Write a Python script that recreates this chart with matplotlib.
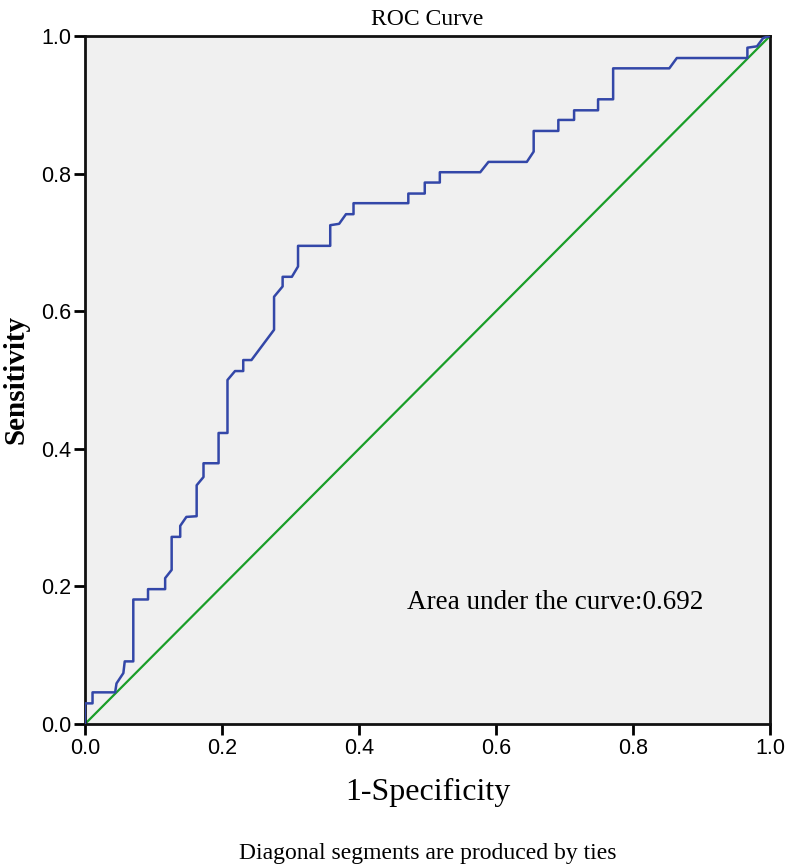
import matplotlib
matplotlib.use("Agg")
import matplotlib.pyplot as plt

# ROC curve points
fpr = [0, 0, 0.011, 0.011, 0.044, 0.046, 0.056, 0.058, 0.0705, 0.0705,
       0.092, 0.092, 0.117, 0.117, 0.1265, 0.1265, 0.139, 0.139, 0.148, 0.163,
       0.163, 0.173, 0.173, 0.195, 0.195, 0.208, 0.208, 0.219, 0.231, 0.231,
       0.243, 0.276, 0.276, 0.2885, 0.2885, 0.302, 0.311, 0.311, 0.358, 0.358,
       0.371, 0.381, 0.392, 0.392, 0.472, 0.472, 0.496, 0.496, 0.518, 0.518,
       0.577, 0.589, 0.645, 0.655, 0.655, 0.691, 0.691, 0.714, 0.714, 0.749,
       0.749, 0.771, 0.771, 0.853, 0.864, 0.967, 0.967, 0.981, 0.990, 1.0]
tpr = [0, 0.030, 0.030, 0.046, 0.046, 0.059, 0.074, 0.091, 0.091, 0.181,
       0.181, 0.196, 0.196, 0.212, 0.224, 0.272, 0.272, 0.288, 0.301, 0.302,
       0.347, 0.359, 0.379, 0.379, 0.423, 0.423, 0.5, 0.513, 0.513, 0.529,
       0.529, 0.573, 0.621, 0.636, 0.650, 0.650, 0.665, 0.695, 0.695, 0.725,
       0.727, 0.741, 0.741, 0.757, 0.757, 0.771, 0.771, 0.787, 0.787, 0.802,
       0.802, 0.817, 0.817, 0.832, 0.862, 0.862, 0.878, 0.878, 0.892, 0.892,
       0.908, 0.908, 0.953, 0.953, 0.968, 0.968, 0.983, 0.985, 0.997, 1.0]
ref_line = [0, 1]
ticks = [0.0, 0.2, 0.4, 0.6, 0.8, 1.0]
tick_labels = ["0.0", "0.2", "0.4", "0.6", "0.8", "1.0"]
auc_text = "Area under the curve:0.692"

serif = ["Liberation Serif", "DejaVu Serif"]
sans = ["Liberation Sans Narrow", "Liberation Sans", "DejaVu Sans"]

fig = plt.figure(figsize=(7.86, 8.67), dpi=100)
ax = fig.add_axes([85/786, 1 - 724/867, 685/786, 688/867])
ax.set_facecolor("#f0f0f0")

ax.plot(ref_line, ref_line, color="#1a9e28", lw=1.6, zorder=2)
ax.plot(fpr, tpr, color="#3347a8", lw=1.8, zorder=3)

ax.set_xlim(0, 1)
ax.set_ylim(0, 1)
ax.set_xticks(ticks)
ax.set_yticks(ticks)
ax.set_xticklabels(tick_labels, family=sans, fontsize=15.5)
ax.set_yticklabels(tick_labels, family=sans, fontsize=15.5)
ax.tick_params(direction="out", length=8, width=2, pad=2, color="black")
for s in ax.spines.values():
    s.set_linewidth(2)
    s.set_color("#111111")

ax.set_title("ROC Curve", family=serif, fontsize=17, pad=8)
ax.set_xlabel("1-Specificity", family=serif, fontsize=23, labelpad=14)
ax.set_ylabel("Sensitivity", family=serif, fontsize=21, fontweight="bold", labelpad=8)
ax.text(0.47, 0.177, auc_text, transform=ax.transAxes, family=serif,
        fontsize=19.5, ha="left", va="center")
fig.text(428/786, 1 - 853/867, "Diagonal segments are produced by ties",
         family=serif, fontsize=17, ha="center", va="center")

fig.savefig("out.png", dpi=100)
